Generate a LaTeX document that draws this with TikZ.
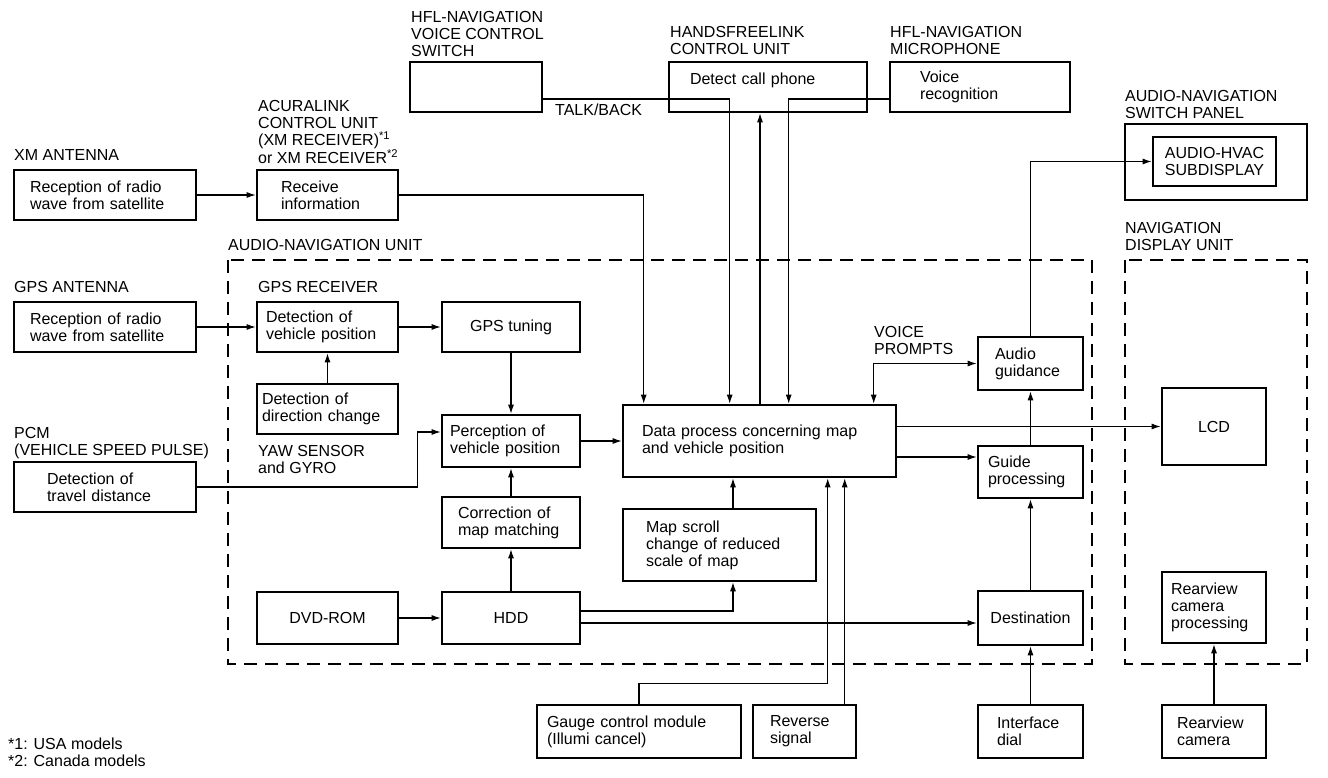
\documentclass[tikz,border=0pt]{standalone}
\usepackage{fontspec}
\setmainfont{Liberation Sans}
\usetikzlibrary{arrows.meta}

\tikzset{
  blk/.style={draw, line width=2.6pt, align=left, inner ysep=0pt, minimum height=50pt},
  lbl/.style={anchor=north west, align=left, inner sep=0pt},
  arr/.style={line width=1.1pt, -{Latex[length=9pt,width=6pt]}},
  arrboth/.style={line width=1.1pt, {Latex[length=9pt,width=6pt]}-{Latex[length=9pt,width=6pt]}},
  unitframe/.style={line width=2pt, dash pattern=on 13pt off 8pt},
}

\begin{document}
\begin{tikzpicture}[x=1pt, y=-1pt, font=\fontsize{16}{17}\selectfont]
        \useasboundingbox (0,0) rectangle (1328,778);

        % unit frames
        \draw[unitframe] (228,260) rectangle (1092,664);
        \draw[unitframe] (1125,260) rectangle (1307,664);

        % headings
        \node[lbl] (lswitch) at (411,11) {HFL-NAVIGATION\\VOICE CONTROL\\SWITCH};
        \node[lbl] (lhfl) at (670,26) {HANDSFREELINK\\CONTROL UNIT};
        \node[lbl] (lmic) at (890,26) {HFL-NAVIGATION\\MICROPHONE};
        \node[lbl] (lacura) at (258,100) {ACURALINK\\CONTROL UNIT\\(XM RECEIVER)\textsuperscript{*1}\\or XM RECEIVER\textsuperscript{*2}};
        \node[lbl] (lxm) at (14,149) {XM ANTENNA};
        \node[lbl] (lpanel) at (1125,90) {AUDIO-NAVIGATION\\SWITCH PANEL};
        \node[lbl] (lunit) at (228,239) {AUDIO-NAVIGATION UNIT};
        \node[lbl] (ldisp) at (1125,222) {NAVIGATION\\DISPLAY UNIT};
        \node[lbl] (lgpsant) at (14,281) {GPS ANTENNA};
        \node[lbl] (lgpsrec) at (258,281) {GPS RECEIVER};
        \node[lbl] (lyaw) at (258,445) {YAW SENSOR\\and GYRO};
        \node[lbl] (lpcm) at (14,427) {PCM\\(VEHICLE SPEED PULSE)};
        \node[lbl] (ltalk) at (555,104) {TALK/BACK};
        \node[lbl] (lvoice) at (874,326) {VOICE\\PROMPTS};
        \node[lbl] (lnotes) at (8,738) {*1: USA models\\*2: Canada models};

        % top row
        \node[blk, minimum width=132pt] (switch) at (476,87) {};
        \node[blk, inner xsep=21pt, text width=156pt] (hfl) at (768,87) {Detect call phone\\\mbox{}};
        \node[blk, inner xsep=30pt, text width=120pt] (mic) at (980,87) {Voice\\recognition};
        \node[blk, inner xsep=16pt, text width=150pt] (xmrx) at (105,195) {Reception of radio\\wave from satellite};
        \node[blk, inner xsep=24pt, text width=93pt] (rcvinfo) at (327.5,195) {Receive\\information};
        \node[blk, minimum width=182pt, minimum height=76pt] (panel) at (1216,162) {};
        \node[blk, align=center, minimum width=123pt, minimum height=49pt] (subdisp) at (1214.5,161.5) {AUDIO-HVAC\\SUBDISPLAY};

        % audio-navigation unit
        \node[blk, inner xsep=16pt, text width=150pt] (gpsrx) at (105,327) {Reception of radio\\wave from satellite};
        \node[blk, inner xsep=9pt, text width=123pt] (detpos) at (327.5,327) {Detection of\\vehicle position};
        \node[blk, minimum width=138pt] (gpstune) at (511,327) {GPS tuning};
        \node[blk, inner xsep=5pt, text width=131pt] (dirchg) at (327.5,409) {Detection of\\direction change};
        \node[blk, inner xsep=8pt, text width=122pt, minimum height=52pt] (percep) at (511,441) {Perception of\\vehicle position};
        \node[blk, inner xsep=19pt, text width=235pt, minimum height=72pt] (data) at (759.5,441) {Data process concerning map\\and vehicle position};
        \node[blk, inner xsep=17pt, text width=71pt, minimum height=53pt] (audio) at (1030.5,363.5) {Audio\\guidance};
        \node[blk, inner xsep=10pt, text width=85pt, minimum height=52pt] (guide) at (1030.5,472) {Guide\\processing};
        \node[blk, inner xsep=33pt, text width=116pt] (travel) at (105,487) {Detection of\\travel distance};
        \node[blk, inner xsep=16pt, text width=106pt, minimum height=51pt] (correct) at (511,522.5) {Correction of\\map matching};
        \node[blk, inner xsep=23pt, text width=147pt, minimum height=72pt] (mapscr) at (719.5,545) {Map scroll\\change of reduced\\scale of map};
        \node[blk, minimum width=141pt, minimum height=52pt] (dvd) at (327.5,618) {DVD-ROM};
        \node[blk, minimum width=138pt, minimum height=52pt] (hdd) at (511,618) {HDD};
        \node[blk, minimum width=105pt, minimum height=54pt] (dest) at (1030.5,618) {Destination};

        % navigation display unit
        \node[blk, minimum width=104pt, minimum height=77pt] (lcd) at (1214,426.5) {LCD};
        \node[blk, inner xsep=9pt, text width=86pt, minimum height=71pt] (rvproc) at (1214,607.5) {Rearview\\camera\\processing};

        % bottom row
        \node[blk, inner xsep=10pt, text width=184pt, minimum height=53pt] (gauge) at (639,731.5) {Gauge control module\\(Illumi cancel)};
        \node[blk, inner xsep=17pt, text width=69pt, minimum height=53pt] (reverse) at (804.5,731.5) {Reverse\\signal};
        \node[blk, inner xsep=19pt, text width=67pt, minimum height=53pt] (iface) at (1030.5,731.5) {Interface\\dial};
        \node[blk, inner xsep=15pt, text width=74pt, minimum height=53pt] (rvcam) at (1214,731.5) {Rearview\\camera};

        % connector points
        \coordinate (hflin) at ([xshift=-8pt]hfl.south);
        \coordinate (sw1) at ([yshift=-12pt]switch.east);
        \coordinate (g1) at ([yshift=-16pt]data.east);
        \coordinate (t1) at ([xshift=-23pt,yshift=9pt]percep.west);
        \coordinate (h1) at ([yshift=7pt]hdd.east);
        \coordinate (h2) at ([yshift=-5pt]hdd.east);
        \coordinate (m1) at ([xshift=13.5pt]mapscr.south);
        \coordinate (d1) at ([xshift=206pt]data.south west);
        \coordinate (d2) at ([xshift=223pt]data.south west);

        % connectors
        \draw[arr] (xmrx) -- (rcvinfo);
        \draw[arr] (rcvinfo.east) -| ([xshift=22pt]data.north west);
        \draw[arr] (sw1) -| ([xshift=108pt]data.north west);
        \draw[arr] (data.north -| hflin) -- (hflin);
        \draw[arr] (mic.west |- sw1) -| ([xshift=167pt]data.north west);
        \draw[arrboth] ([xshift=252pt]data.north west) |- (audio.west);
        \draw[arr] (audio.north) |- (subdisp.west);
        \draw[arr] (gpsrx) -- (detpos);
        \draw[arr] (detpos) -- (gpstune);
        \draw[arr] (dirchg) -- (detpos);
        \draw[arr] (gpstune) -- (percep);
        \draw[arr] (travel.east) -| (t1) -- (t1 -| percep.west);
        \draw[arr] (correct) -- (percep);
        \draw[arr] (hdd) -- (correct);
        \draw[arr] (dvd) -- (hdd);
        \draw[arr] (percep) -- (data);
        \draw[arr] (data.east |- lcd.west) -- (lcd.west);
        \draw[arr] (g1) -- (g1 -| guide.west);
        \draw[arr] (guide) -- (audio);
        \draw[arr] (dest) -- (guide);
        \draw[arr] (iface) -- (dest);
        \draw[arr] (h1) -| (m1);
        \draw[arr] (m1 |- mapscr.north) -- (m1 |- data.south);
        \draw[arr] (h2) -- (h2 -| dest.west);
        \draw[arr] (gauge.north) -- ++(0pt,20pt) -| (d1);
        \draw[arr] (reverse.north -| d2) -- (d2);
        \draw[arr] (rvcam) -- (rvproc);
\end{tikzpicture}
\end{document}
